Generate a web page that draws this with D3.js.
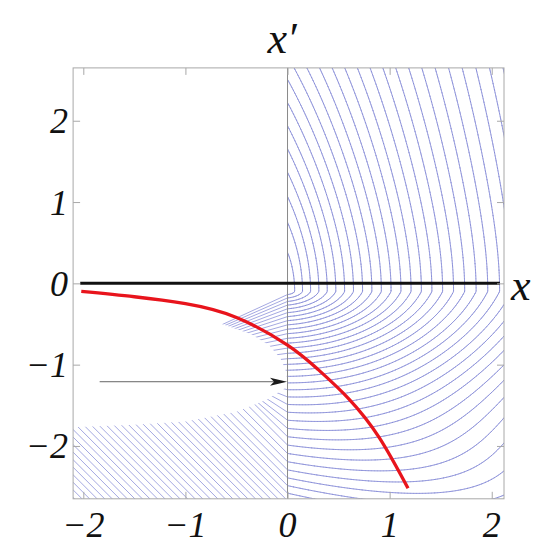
<!DOCTYPE html>
<html><head><meta charset="utf-8">
<script src="https://cdn.jsdelivr.net/npm/d3@7"></script>
<style>body{margin:0;background:#fff}svg{display:block}
.lbl{font-family:"Liberation Serif","Times New Roman",Times,serif;font-style:italic;fill:#111}</style>
</head><body>
<svg id="c" width="544" height="550"></svg>
<script>
// ---------------- data ----------------
const xDomain = [-2.1, 2.12];
const yDomain = [-2.65, 2.65];
const xTicks = [-2, -1, 0, 1, 2];
const yTicks = [-2, -1, 0, 1, 2];
const xTickLabels = ["\u22122", "\u22121", "0", "1", "2"];
const yTickLabels = ["\u22122", "\u22121", "0", "1", "2"];
const xAxisLabel = "x";
const yAxisLabel = "x\u2032";
// red curve
const redX = [-2.02, -1.5, -1.0, -0.5, 0, 0.3, 0.6, 0.9, 1.18];
const redY = [-0.10, -0.165, -0.25, -0.42, -0.76, -1.06, -1.42, -1.90, -2.52];
// black line x' = 0
const blackLineX = [-2.03, 2.08];
const blackLineY = 0;
// arrow
const arrowX = [-1.84, 0];
const arrowY = -1.21;
// contour levels
const levels = [0.07,0.147,0.226,0.307,0.389,0.473,0.559,0.646,0.735,0.826,0.919,1.014,1.111,1.21,1.311,1.414,1.519,1.626,1.735,1.847,1.961,2.077,2.195,2.313,2.431,2.549,2.667,2.785,2.903,3.021,3.139,3.257,3.375,3.493,3.611,3.729,3.847,3.965,4.083,4.201,4.319,4.437,4.555,4.673];
// boundaries of hatched regions left of x = 0
const bandX = [0, -0.74, -0.55, -0.35, -0.18, -0.07, -0.02, 0];
const bandY = [0.0, -0.46, -0.54, -0.63, -0.76, -0.92, -1.06, -1.2];
const lowerX = [0, -0.2, -0.5, -1.0, -1.5, -2.1, -2.1, 0];
const lowerY = [-1.27, -1.43, -1.58, -1.70, -1.74, -1.77, -2.65, -2.65];
// direction of the contour lines continuing left of x = 0 (rise per unit of -x)
const rayY = [-0.1, -0.6, -1.2, -1.27, -1.5, -1.9, -9];
const raySlope = [-0.6, -0.3, 0.0, 0.25, 0.7, 1.256, 1.256];

// ---------------- setup ----------------
const svg = d3.select("#c");
const x = d3.scaleLinear().domain(xDomain).range([73.1, 504]);
const y = d3.scaleLinear().domain(yDomain).range([498.8, 67.9]);
const blue = "#7c82d4";
const lw = 0.7;

// field whose contours are drawn for x >= 0
const F = {yO: -0.1, su: 0.3, eps: 0.9, fall: 3, Ryu: 8, Ryd: 0.53, Ryd2: 1.3, h1: 1.2, w: 0.45, sd: 0.37, h0: 1.1};
function softplus(z) { return z > 30 ? z : Math.log1p(Math.exp(z)); }
function field(xx, yy) {
  const h = yy - F.yO;
  if (h >= 0) {
    const s = F.su * (Math.sqrt(h * h + F.eps * F.eps) - F.eps) * Math.exp(-Math.max(xx, 0) / F.fall);
    const X = xx + s;
    return Math.sqrt(X * X + (h / F.Ryu) ** 2);
  } else {
    const a = -h;
    const xc = F.sd * a * (a - F.h0);
    const g = a / F.Ryd + (1 / F.Ryd2 - 1 / F.Ryd) * F.w * (softplus((a - F.h1) / F.w) - softplus(-F.h1 / F.w));
    const X = xx - xc;
    return Math.sqrt(X * X + g * g);
  }
}

// marching squares -> one path string per level
function isolines(px0, px1, py0, py1, step) {
  const nx = Math.ceil((px1 - px0) / step) + 1, ny = Math.ceil((py1 - py0) / step) + 1;
  const v = new Float64Array(nx * ny);
  for (let j = 0; j < ny; j++) for (let i = 0; i < nx; i++)
    v[j * nx + i] = field(x.invert(px0 + i * step), y.invert(py0 + j * step));
  const paths = levels.map(() => []);
  for (let j = 0; j < ny - 1; j++) for (let i = 0; i < nx - 1; i++) {
    const X0 = px0 + i * step, Y0 = py0 + j * step;
    const c = [[X0, Y0, v[j * nx + i]], [X0 + step, Y0, v[j * nx + i + 1]],
               [X0 + step, Y0 + step, v[(j + 1) * nx + i + 1]], [X0, Y0 + step, v[(j + 1) * nx + i]]];
    const mn = Math.min(c[0][2], c[1][2], c[2][2], c[3][2]);
    const mx = Math.max(c[0][2], c[1][2], c[2][2], c[3][2]);
    for (let k = 0; k < levels.length; k++) {
      const L = levels[k];
      if (L < mn || L > mx) continue;
      const pts = [];
      for (let e = 0; e < 4; e++) {
        const a = c[e], b = c[(e + 1) % 4];
        if ((a[2] < L) !== (b[2] < L)) {
          const t = (L - a[2]) / (b[2] - a[2]);
          pts.push([a[0] + t * (b[0] - a[0]), a[1] + t * (b[1] - a[1])]);
        }
      }
      for (let p = 0; p + 1 < pts.length; p += 2)
        paths[k].push("M" + pts[p][0].toFixed(2) + "," + pts[p][1].toFixed(2) + "L" + pts[p + 1][0].toFixed(2) + "," + pts[p + 1][1].toFixed(2));
    }
  }
  return paths.map(p => p.join(""));
}

const defs = svg.append("defs");
defs.append("clipPath").attr("id", "clipR").append("rect")
  .attr("x", x(0)).attr("y", y(2.65)).attr("width", x(2.12) - x(0)).attr("height", y(-2.65) - y(2.65));
const poly = (xs, ys) => xs.map((v, i) => [x(v), y(ys[i])].join(",")).join(" ");
defs.append("clipPath").attr("id", "clipBand").append("polygon").attr("points", poly(bandX, bandY));
defs.append("clipPath").attr("id", "clipLow").append("polygon").attr("points", poly(lowerX, lowerY));

// right region contours
const gR = svg.append("g").attr("clip-path", "url(#clipR)")
  .attr("fill", "none").attr("stroke", blue).attr("stroke-width", lw).attr("stroke-linecap", "round");
isolines(x(0), x(2.12) + 1, y(2.65) - 1, y(-2.65) + 1, 1.5).forEach(d => { if (d) gR.append("path").attr("d", d); });

// continuation left of x = 0: crossing points on x = 0
function crossY(L) {
  let lo = -2.65, hi = F.yO;
  if (field(0, lo) < L) return null;
  for (let it = 0; it < 50; it++) {
    const m = (lo + hi) / 2;
    if (field(0, m) > L) lo = m; else hi = m;
  }
  return (lo + hi) / 2;
}
const ys = levels.map(crossY).filter(v => v !== null);
const slope = d3.scaleLinear().domain(rayY).range(raySlope).clamp(true);
const gB = svg.append("g").attr("clip-path", "url(#clipBand)").attr("stroke", blue).attr("stroke-width", lw);
const gL = svg.append("g").attr("clip-path", "url(#clipLow)").attr("stroke", blue).attr("stroke-width", lw);
let allY = ys.slice();
const dy = ys[ys.length - 2] - ys[ys.length - 1];
let last = ys[ys.length - 1];
while (last > -5.5) { last -= dy; allY.push(last); }
allY.forEach(Y => {
  const m = slope(Y);
  const g = Y > -1.235 ? gB : gL;
  g.append("line").attr("x1", x(0)).attr("y1", y(Y)).attr("x2", x(-2.3)).attr("y2", y(Y + 2.3 * m));
});

// x = 0 vertical line
svg.append("line").attr("x1", x(0)).attr("x2", x(0)).attr("y1", y(2.65)).attr("y2", y(-2.65))
  .attr("stroke", "#8a8a8a").attr("stroke-width", 1);

// black line
svg.append("line").attr("x1", x(blackLineX[0])).attr("x2", x(blackLineX[1]))
  .attr("y1", y(blackLineY)).attr("y2", y(blackLineY)).attr("stroke", "#111").attr("stroke-width", 3);

// red curve
svg.append("path").datum(redX.map((v, i) => [v, redY[i]]))
  .attr("d", d3.line().x(d => x(d[0])).y(d => y(d[1])).curve(d3.curveNatural))
  .attr("fill", "none").attr("stroke", "#e8141c").attr("stroke-width", 3.3).attr("stroke-linecap", "butt");

// arrow
const tipX = x(arrowX[1]) - 0.5, ay = y(arrowY);
svg.append("line").attr("x1", x(arrowX[0])).attr("x2", tipX - 12).attr("y1", ay).attr("y2", ay)
  .attr("stroke", "#666").attr("stroke-width", 1);
svg.append("path").attr("d", `M${tipX},${ay}L${tipX - 17},${ay - 4}L${tipX - 13},${ay}L${tipX - 17},${ay + 4}Z`).attr("fill", "#1a1a1a");

// frame
svg.append("rect").attr("x", x(xDomain[0])).attr("y", y(yDomain[1]))
  .attr("width", x(xDomain[1]) - x(xDomain[0])).attr("height", y(yDomain[0]) - y(yDomain[1]))
  .attr("fill", "none").attr("stroke", "#a8a8a8").attr("stroke-width", 1);

// frame ticks via axes
const tl = 7;
const styleAxis = g => { g.select(".domain").remove(); g.selectAll("line").attr("stroke", "#a8a8a8"); };
svg.append("g").attr("transform", `translate(0,${y(yDomain[0])})`)
  .call(d3.axisTop(x).tickValues(xTicks).tickSize(tl).tickFormat("")).call(styleAxis);
svg.append("g").attr("transform", `translate(0,${y(yDomain[1])})`)
  .call(d3.axisBottom(x).tickValues(xTicks).tickSize(tl).tickFormat("")).call(styleAxis);
svg.append("g").attr("transform", `translate(${x(xDomain[0])},0)`)
  .call(d3.axisRight(y).tickValues(yTicks).tickSize(tl).tickFormat("")).call(styleAxis);
svg.append("g").attr("transform", `translate(${x(xDomain[1])},0)`)
  .call(d3.axisLeft(y).tickValues(yTicks).tickSize(tl).tickFormat("")).call(styleAxis);

// tick labels
svg.append("g").selectAll("text").data(xTicks).join("text").attr("class", "lbl")
  .attr("x", d => x(d)).attr("y", 537).attr("text-anchor", "middle").style("font-size", "36px")
  .text((d, i) => xTickLabels[i]);
svg.append("g").selectAll("text").data(yTicks).join("text").attr("class", "lbl")
  .attr("x", 68).attr("y", d => y(d) + 12.5).attr("text-anchor", "end").style("font-size", "36px")
  .text((d, i) => yTickLabels[i]);

// axis labels
svg.append("text").attr("class", "lbl").attr("x", 282).attr("y", 53).attr("text-anchor", "middle")
  .style("font-size", "44px").text(yAxisLabel);
svg.append("text").attr("class", "lbl").attr("x", 511).attr("y", 300).attr("text-anchor", "start")
  .style("font-size", "44px").text(xAxisLabel);
</script>
</body></html>
